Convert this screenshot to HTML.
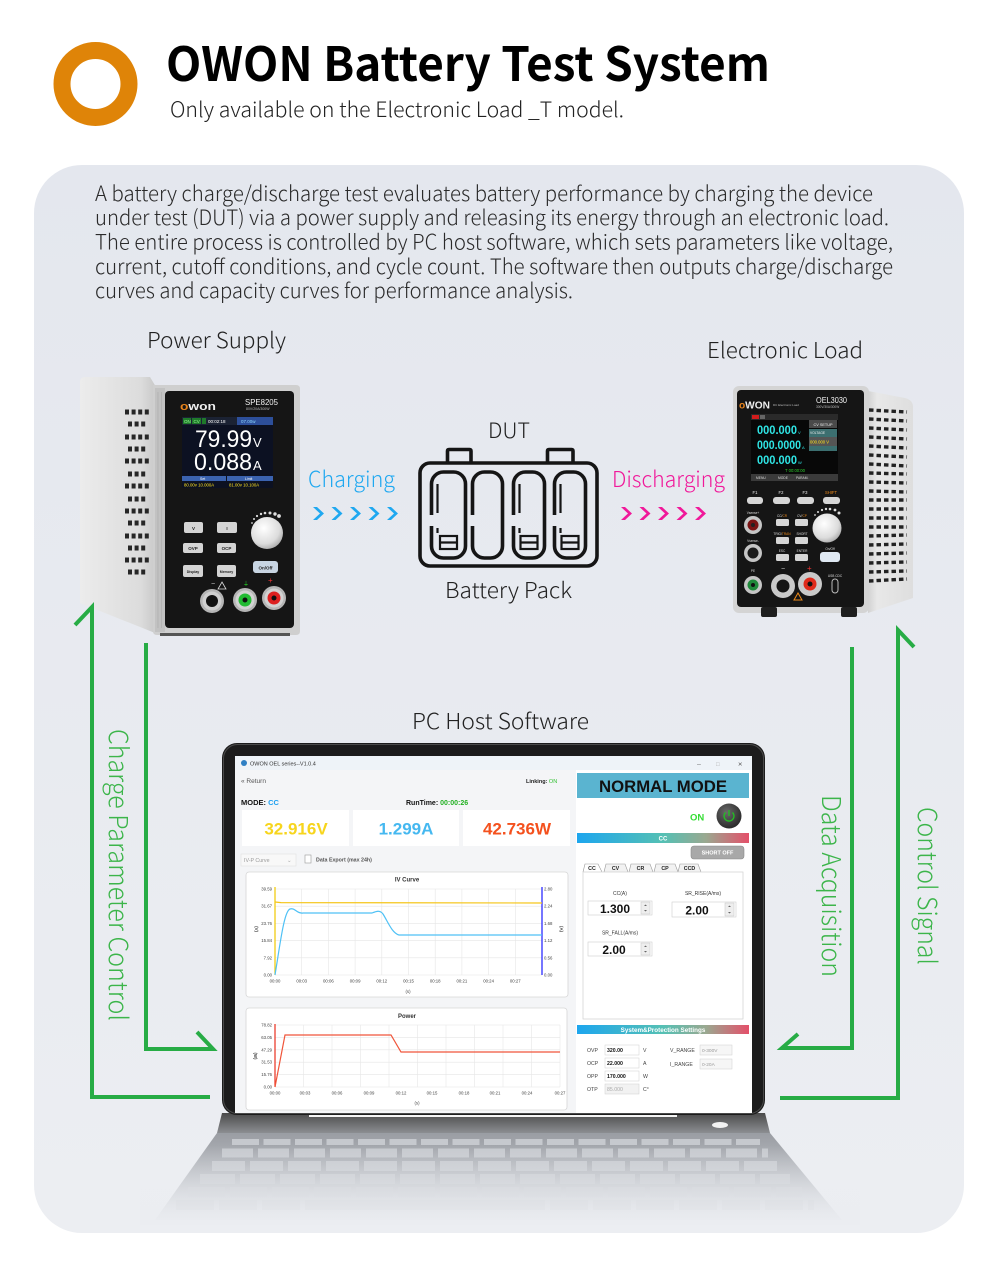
<!DOCTYPE html>
<html><head><meta charset="utf-8">
<style>
html,body{margin:0;padding:0;background:#fff;}
svg{display:block;}
.t{font-family:"Noto Sans CJK SC","Liberation Sans",sans-serif;}
.l{font-family:"Liberation Sans",sans-serif;}
</style></head>
<body>
<svg width="1000" height="1266" viewBox="0 0 1000 1266" xmlns="http://www.w3.org/2000/svg">
<defs>
  <linearGradient id="panelG" x1="0" y1="0" x2="0" y2="1">
    <stop offset="0" stop-color="#e4e7ee"/>
    <stop offset="1" stop-color="#eceef2"/>
  </linearGradient>
  <linearGradient id="sideG" x1="0" y1="0" x2="1" y2="0">
    <stop offset="0" stop-color="#ececec"/>
    <stop offset="0.8" stop-color="#dcdcdc"/>
    <stop offset="1" stop-color="#c8c8c8"/>
  </linearGradient>
  <linearGradient id="sideG2" x1="0" y1="0" x2="1" y2="0">
    <stop offset="0" stop-color="#d2d2d2"/>
    <stop offset="0.2" stop-color="#e8e8e8"/>
    <stop offset="1" stop-color="#dedede"/>
  </linearGradient>
  <linearGradient id="barG" x1="0" y1="0" x2="1" y2="0">
    <stop offset="0" stop-color="#1da6ee"/>
    <stop offset="0.5" stop-color="#55c0b4"/>
    <stop offset="0.75" stop-color="#9aa890"/>
    <stop offset="1" stop-color="#e4506a"/>
  </linearGradient>
  <linearGradient id="hingeG" x1="0" y1="0" x2="0" y2="1">
    <stop offset="0" stop-color="#4a4a4a"/>
    <stop offset="1" stop-color="#8c8e92"/>
  </linearGradient>
  <linearGradient id="deckG" x1="0" y1="0" x2="0" y2="1">
    <stop offset="0" stop-color="#9a9da3"/>
    <stop offset="1" stop-color="#dadde2"/>
  </linearGradient>
  <linearGradient id="fadeG" x1="0" y1="0" x2="0" y2="1">
    <stop offset="0" stop-color="#ebedf1" stop-opacity="0"/>
    <stop offset="1" stop-color="#ebedf1" stop-opacity="0.95"/>
  </linearGradient>
  <radialGradient id="knobG" cx="0.4" cy="0.35" r="0.7">
    <stop offset="0" stop-color="#ffffff"/>
    <stop offset="0.7" stop-color="#dcdcdc"/>
    <stop offset="1" stop-color="#a8a8a8"/>
  </radialGradient>
  <radialGradient id="btnG" cx="0.4" cy="0.35" r="0.7">
    <stop offset="0" stop-color="#6a6a6a"/>
    <stop offset="1" stop-color="#262626"/>
  </radialGradient>
</defs>

<!-- page background panel -->
<rect x="34" y="165" width="930" height="1068" rx="48" fill="url(#panelG)"/>

<!-- header -->
<circle cx="95.5" cy="84" r="33.5" fill="none" stroke="#df8408" stroke-width="17"/>
<text class="t" x="166" y="81" font-size="47" font-weight="bold" fill="#000" textLength="604" lengthAdjust="spacingAndGlyphs">OWON Battery Test System</text>
<text class="t" x="170" y="117" font-size="21" font-weight="300" fill="#222" textLength="454" lengthAdjust="spacingAndGlyphs">Only available on the Electronic Load _T model.</text>

<!-- paragraph -->
<g class="t" font-size="21" font-weight="300" fill="#2a2a2a">
<text x="95" y="201" textLength="778" lengthAdjust="spacingAndGlyphs">A battery charge/discharge test evaluates battery performance by charging the device</text>
<text x="95" y="225" textLength="794" lengthAdjust="spacingAndGlyphs">under test (DUT) via a power supply and releasing its energy through an electronic load.</text>
<text x="95" y="249.5" textLength="798" lengthAdjust="spacingAndGlyphs">The entire process is controlled by PC host software, which sets parameters like voltage,</text>
<text x="95" y="274" textLength="798" lengthAdjust="spacingAndGlyphs">current, cutoff conditions, and cycle count. The software then outputs charge/discharge</text>
<text x="95" y="298" textLength="478" lengthAdjust="spacingAndGlyphs">curves and capacity curves for performance analysis.</text>
</g>

<g class="t" font-size="22" font-weight="300" fill="#222">
<text x="147" y="348" textLength="139" lengthAdjust="spacingAndGlyphs">Power Supply</text>
<text x="707" y="358" textLength="156" lengthAdjust="spacingAndGlyphs">Electronic Load</text>
<text x="488" y="438" font-size="21" textLength="42" lengthAdjust="spacingAndGlyphs">DUT</text>
<text x="445" y="598" textLength="127" lengthAdjust="spacingAndGlyphs">Battery Pack</text>
<text x="412" y="729" textLength="177" lengthAdjust="spacingAndGlyphs">PC Host Software</text>
<text x="308" y="487" fill="#1fa8f0" textLength="87" lengthAdjust="spacingAndGlyphs">Charging</text>
<text x="612" y="487" fill="#f0199a" textLength="113" lengthAdjust="spacingAndGlyphs">Discharging</text>
</g>

<!-- chevrons -->
<g fill="#1fa8f0">
  <polygon points="313,507 317,507 324,513.5 317,520 313,520 320,513.5"/>
  <polygon points="331.5,507 335.5,507 342.5,513.5 335.5,520 331.5,520 338.5,513.5"/>
  <polygon points="350,507 354,507 361,513.5 354,520 350,520 357,513.5"/>
  <polygon points="368.5,507 372.5,507 379.5,513.5 372.5,520 368.5,520 375.5,513.5"/>
  <polygon points="387,507 391,507 398,513.5 391,520 387,520 394,513.5"/>
</g>
<g fill="#f0199a">
  <polygon points="621,507 625,507 632,513.5 625,520 621,520 628,513.5"/>
  <polygon points="639.5,507 643.5,507 650.5,513.5 643.5,520 639.5,520 646.5,513.5"/>
  <polygon points="658,507 662,507 669,513.5 662,520 658,520 665,513.5"/>
  <polygon points="676.5,507 680.5,507 687.5,513.5 680.5,520 676.5,520 683.5,513.5"/>
  <polygon points="695,507 699,507 706,513.5 699,520 695,520 702,513.5"/>
</g>

<!-- battery pack -->
<g fill="none" stroke="#151515" stroke-width="3.6" stroke-linejoin="round">
  <rect x="420" y="463" width="177" height="103" rx="10"/>
  <path d="M447.5,463 V451 Q447.5,449.5 449,449.5 H469.5 Q471,449.5 471,451 V463"/>
  <path d="M547.5,463 V451 Q547.5,449.5 549,449.5 H571.5 Q573,449.5 573,451 V463"/>
  <path d="M431.5,515 V484 A12,12 0 0 1 443.5,472 H453.5 A12,12 0 0 1 465.5,484 V546 A12,12 0 0 1 453.5,558 H443.5 A12,12 0 0 1 431.5,546 V526"/>
  <path d="M472.5,515 V484 A12,12 0 0 1 484.5,472 H490.5 A12,12 0 0 1 502.5,484 V546 A12,12 0 0 1 490.5,558 H484.5 A12,12 0 0 1 472.5,546 V526"/>
  <path d="M513.5,515 V484 A12,12 0 0 1 525.5,472 H532.5 A12,12 0 0 1 544.5,484 V546 A12,12 0 0 1 532.5,558 H525.5 A12,12 0 0 1 513.5,546 V526"/>
  <path d="M554.5,515 V484 A12,12 0 0 1 566.5,472 H573.5 A12,12 0 0 1 585.5,484 V546 A12,12 0 0 1 573.5,558 H566.5 A12,12 0 0 1 554.5,546 V526"/>
</g>
<g fill="none" stroke="#151515" stroke-width="2.2">
  <path d="M437.5,484 V513 M437.5,528 V533"/>
  <path d="M519.5,484 V513 M519.5,528 V533"/>
  <path d="M560.5,484 V513 M560.5,528 V533"/>
  <rect x="440" y="536" width="17" height="13"/><line x1="440" y1="542.5" x2="457" y2="542.5"/>
  <rect x="520.5" y="536" width="17" height="13"/><line x1="520.5" y1="542.5" x2="537.5" y2="542.5"/>
  <rect x="561.5" y="536" width="17" height="13"/><line x1="561.5" y1="542.5" x2="578.5" y2="542.5"/>
</g>

<!-- ============ POWER SUPPLY ============ -->
<g>
  <path d="M85,377 Q80,377 80,382 L80,603 L155,633 L156,387 L150,377 Z" fill="url(#sideG)"/>
  <path d="M153,385 L296,385 Q300,385 300,389 L300,631 Q300,635 296,635 L157,635 Q153,635 153,631 Z" fill="#cfcfcf"/>
  <rect x="155" y="388" width="10" height="244" fill="#c2c2c2"/>
  <g stroke="#b0b0b0" stroke-width="0.8">
    <line x1="158" y1="392" x2="158" y2="628"/><line x1="161.5" y1="392" x2="161.5" y2="628"/>
  </g>
  <rect x="160" y="633" width="130" height="3" fill="#555"/>
  <g stroke="#262626" stroke-width="5">
    <line x1="125" y1="412" x2="151" y2="412" stroke-dasharray="4 2.6"/>
    <line x1="128" y1="424" x2="147" y2="424" stroke-dasharray="4 2.6"/>
    <line x1="125" y1="437" x2="151" y2="437" stroke-dasharray="4 2.6"/>
    <line x1="128" y1="449" x2="147" y2="449" stroke-dasharray="4 2.6"/>
    <line x1="125" y1="461" x2="151" y2="461" stroke-dasharray="4 2.6"/>
    <line x1="128" y1="474" x2="147" y2="474" stroke-dasharray="4 2.6"/>
    <line x1="125" y1="486" x2="151" y2="486" stroke-dasharray="4 2.6"/>
    <line x1="128" y1="499" x2="147" y2="499" stroke-dasharray="4 2.6"/>
    <line x1="125" y1="511" x2="151" y2="511" stroke-dasharray="4 2.6"/>
    <line x1="128" y1="523" x2="147" y2="523" stroke-dasharray="4 2.6"/>
    <line x1="125" y1="536" x2="151" y2="536" stroke-dasharray="4 2.6"/>
    <line x1="128" y1="548" x2="147" y2="548" stroke-dasharray="4 2.6"/>
    <line x1="125" y1="560" x2="151" y2="560" stroke-dasharray="4 2.6"/>
    <line x1="128" y1="572" x2="147" y2="572" stroke-dasharray="4 2.6"/>
  </g>
  <rect x="165" y="391" width="129" height="237" rx="4" fill="#151515"/>
  <text class="l" x="180" y="410" font-size="11" font-weight="bold" fill="#e8841c" textLength="36" lengthAdjust="spacingAndGlyphs">o<tspan fill="#eeeeee">won</tspan></text>
  <text class="l" x="245" y="405" font-size="8.5" fill="#f2f2f2" textLength="33" lengthAdjust="spacingAndGlyphs">SPE8205</text>
  <text class="l" x="246" y="410" font-size="3.5" fill="#bbb">80V/20A/300W</text>
  <rect x="182" y="417" width="91" height="71" fill="#0c1122"/>
  <rect x="182" y="417" width="91" height="8" fill="#1b2233"/>
  <rect x="183" y="418" width="8" height="6" fill="#1f7a2a"/>
  <rect x="192" y="418" width="9" height="6" fill="#1f7a2a"/>
  <rect x="202" y="418" width="4" height="6" fill="#1f7a2a"/>
  <text class="l" x="184" y="423" font-size="4.5" fill="#9f9">ON</text>
  <text class="l" x="193.5" y="423" font-size="4.5" fill="#9f9">CV</text>
  <text class="l" x="208" y="423" font-size="4.5" fill="#fff">00:02:18</text>
  <rect x="237" y="417" width="36" height="8" fill="#2d4f9a"/>
  <text class="l" x="241" y="423" font-size="4.5" fill="#8fd8ff">07.00w</text>
  <text class="l" x="195" y="447" font-size="24" fill="#fff" textLength="57" lengthAdjust="spacingAndGlyphs">79.99</text>
  <text class="l" x="253" y="447" font-size="13" fill="#fff">V</text>
  <text class="l" x="194" y="470" font-size="24" fill="#fff" textLength="58" lengthAdjust="spacingAndGlyphs">0.088</text>
  <text class="l" x="253" y="470" font-size="13" fill="#fff">A</text>
  <rect x="182" y="476" width="44" height="5" fill="#3b63b0"/>
  <rect x="227" y="476" width="46" height="5" fill="#3b63b0"/>
  <text class="l" x="200" y="480" font-size="3.5" fill="#fff">Set</text>
  <text class="l" x="245" y="480" font-size="3.5" fill="#fff">Limit</text>
  <text class="l" x="184" y="486.5" font-size="4.3" fill="#ffe21a">80.00v 10.000A</text>
  <text class="l" x="229" y="486.5" font-size="4.3" fill="#ffe21a">81.00v 10.100A</text>
  <g fill="#d4d4d4">
    <rect x="184" y="522" width="19" height="11" rx="2"/>
    <rect x="217" y="522" width="20" height="11" rx="2"/>
    <rect x="183" y="543" width="20" height="10" rx="2"/>
    <rect x="217" y="543" width="19" height="10" rx="2"/>
    <rect x="183" y="565" width="20" height="12" rx="2"/>
    <rect x="217" y="565" width="19" height="12" rx="2"/>
    <rect x="253" y="561" width="25" height="12" rx="3" fill="#c8d5e2"/>
  </g>
  <g class="l" font-size="4.5" font-weight="bold" fill="#222" text-anchor="middle">
    <text x="193.5" y="530">V</text><text x="227" y="530">I</text>
    <text x="193" y="550">OVP</text><text x="226.5" y="550">OCP</text>
    <text x="193" y="573" font-size="3.5">Display</text><text x="226.5" y="573" font-size="3.5">Memory</text>
    <text x="265.5" y="569.5">On/Off</text>
  </g>
  <g fill="#ddd">
    <circle cx="252" cy="523" r="0.9"/><circle cx="254" cy="519" r="1"/><circle cx="257" cy="516" r="1.1"/>
    <circle cx="261" cy="514" r="1.2"/><circle cx="265" cy="513" r="1.3"/><circle cx="270" cy="513" r="1.5"/>
    <circle cx="275" cy="514" r="1.7"/><circle cx="279" cy="516" r="1.9"/>
  </g>
  <circle cx="267" cy="533" r="16" fill="url(#knobG)"/>
  <text class="l" x="211" y="586" font-size="7" fill="#ddd">−</text>
  <path d="M222,582 L226,589 L218,589 Z" fill="none" stroke="#ddd" stroke-width="0.8"/>
  <text class="l" x="243" y="586" font-size="6" fill="#2c2">⏚</text>
  <text class="l" x="268" y="583" font-size="8" fill="#e33">+</text>
  <circle cx="212" cy="601" r="12" fill="#b5b5b5"/><circle cx="212" cy="601" r="9.5" fill="#cfcfcf"/><circle cx="212" cy="601" r="6" fill="#111"/>
  <circle cx="245" cy="600" r="12" fill="#b5b5b5"/><circle cx="245" cy="600" r="9.5" fill="#d2d2d2"/><circle cx="245" cy="600" r="6.5" fill="#22bb33"/><circle cx="245" cy="600" r="2.5" fill="#111"/>
  <circle cx="274" cy="598" r="12" fill="#b5b5b5"/><circle cx="274" cy="598" r="9.5" fill="#d2d2d2"/><circle cx="274" cy="598" r="6.5" fill="#dd2020"/><circle cx="274" cy="598" r="2.5" fill="#111"/>
</g>

<!-- ============ ELECTRONIC LOAD ============ -->
<g>
  <path d="M868,391 L905,398 Q913,400 913,407 L913,598 L868,613 Z" fill="url(#sideG2)"/>
  <g stroke="#222" stroke-width="3.4" stroke-dasharray="4.5 3">
    <line x1="869" y1="410" x2="907" y2="412"/><line x1="869" y1="419" x2="907" y2="421"/>
    <line x1="869" y1="428" x2="907" y2="430"/><line x1="869" y1="437" x2="907" y2="439"/>
    <line x1="869" y1="446" x2="907" y2="448"/><line x1="869" y1="455" x2="907" y2="457"/>
    <line x1="869" y1="464" x2="907" y2="466"/><line x1="869" y1="473" x2="907" y2="474"/>
    <line x1="869" y1="482" x2="907" y2="483"/><line x1="869" y1="491" x2="907" y2="492"/>
    <line x1="869" y1="500" x2="907" y2="500"/><line x1="869" y1="509" x2="907" y2="509"/>
    <line x1="869" y1="518" x2="907" y2="518"/><line x1="869" y1="527" x2="907" y2="527"/>
    <line x1="869" y1="536" x2="907" y2="535"/><line x1="869" y1="545" x2="907" y2="544"/>
    <line x1="869" y1="554" x2="907" y2="553"/><line x1="869" y1="563" x2="907" y2="562"/>
    <line x1="869" y1="572" x2="907" y2="571"/><line x1="869" y1="581" x2="907" y2="579"/>
  </g>
  <rect x="733" y="386" width="136" height="227" rx="6" fill="#d4d4d4"/>
  <rect x="737" y="390" width="127" height="217" rx="4" fill="#151515"/>
  <rect x="761" y="607" width="16" height="10" rx="2" fill="#1e1e1e"/>
  <rect x="841" y="607" width="16" height="10" rx="2" fill="#1e1e1e"/>
  <text class="l" x="739" y="408.5" font-size="10" font-weight="bold" fill="#e8841c" textLength="31" lengthAdjust="spacingAndGlyphs">o<tspan fill="#eeeeee">WON</tspan></text>
  <text class="l" x="773" y="406" font-size="3" fill="#bbb">DC Electronic Load</text>
  <text class="l" x="816" y="403" font-size="8" fill="#f2f2f2" textLength="31" lengthAdjust="spacingAndGlyphs">OEL3030</text>
  <text class="l" x="816" y="408" font-size="3.2" fill="#bbb">300V/30A/300W</text>
  <rect x="751" y="414" width="87" height="67" fill="#080808"/>
  <rect x="751" y="414" width="87" height="6" fill="#2a2a2a"/>
  <rect x="752" y="415" width="7" height="4" fill="#d21c1c"/>
  <rect x="760" y="415" width="5" height="4" fill="#666"/>
  <g class="l" font-size="11.5" font-weight="bold" fill="#2fe6e6">
    <text x="757" y="434" textLength="40" lengthAdjust="spacingAndGlyphs">000.000</text>
    <text x="757" y="449" textLength="44" lengthAdjust="spacingAndGlyphs">000.0000</text>
    <text x="757" y="464" textLength="40" lengthAdjust="spacingAndGlyphs">000.000</text>
  </g>
  <g class="l" font-size="4" fill="#2fe6e6"><text x="798" y="434">V</text><text x="802" y="449">A</text><text x="798" y="464">W</text></g>
  <rect x="809" y="420" width="28" height="8" fill="#4a4a4a"/>
  <text class="l" x="823" y="426" font-size="3.8" fill="#eee" text-anchor="middle">CV SETUP</text>
  <rect x="809" y="429" width="28" height="22" fill="#3c6f70"/>
  <text class="l" x="810" y="434" font-size="3.3" fill="#eee">VOLTAGE</text>
  <rect x="809" y="437" width="28" height="9" fill="#555"/>
  <text class="l" x="810" y="443.5" font-size="4.2" fill="#ffe21a">000.000 V</text>
  <text class="l" x="785" y="472" font-size="4.2" fill="#2ed12e">T 00:00:00</text>
  <rect x="751" y="474" width="87" height="7" fill="#3a3a3a"/>
  <g class="l" font-size="3.3" fill="#ddd"><text x="756" y="479">MENU</text><text x="778" y="479">MODE</text><text x="796" y="479">PARAM.</text></g>
  <g class="l" font-size="4.2" fill="#eee" text-anchor="middle">
    <text x="755" y="494">F1</text><text x="781" y="494">F2</text><text x="805" y="494">F3</text>
    <text x="831" y="494" fill="#ee8a1a">SHIFT</text>
  </g>
  <g fill="#d6d6d6">
    <rect x="747" y="497" width="16" height="7" rx="3"/><rect x="773" y="497" width="17" height="7" rx="3"/>
    <rect x="797" y="497" width="17" height="7" rx="3"/><rect x="823" y="497" width="17" height="7" rx="3"/>
    <rect x="776" y="519" width="13" height="7" rx="1.5"/><rect x="795" y="519" width="13" height="7" rx="1.5"/>
    <rect x="776" y="537" width="13" height="7" rx="1.5"/><rect x="795" y="537" width="13" height="7" rx="1.5"/>
    <rect x="776" y="554" width="13" height="7" rx="1.5"/><rect x="795" y="554" width="13" height="7" rx="1.5"/>
    <rect x="820" y="552" width="20" height="10" rx="3" fill="#dfe8f2"/>
  </g>
  <g class="l" font-size="3.2" fill="#ddd" text-anchor="middle">
    <text x="753" y="514">Vsense+</text><text x="782" y="517">CC/<tspan fill="#ee8a1a">CR</tspan></text>
    <text x="802" y="517">CV/<tspan fill="#ee8a1a">CP</tspan></text>
    <text x="782" y="535">TRIG/<tspan fill="#ee8a1a">TRAN</tspan></text><text x="802" y="535">SHORT</text>
    <text x="753" y="542">Vsense-</text>
    <text x="782" y="552">ESC</text><text x="802" y="552">ENTER</text><text x="830" y="550">On/Off</text>
    <text x="753" y="572">PE</text><text x="835" y="577">USB CDC</text>
  </g>
  <g fill="#ddd">
    <circle cx="815" cy="515" r="0.9"/><circle cx="818" cy="512" r="1"/><circle cx="822" cy="510" r="1.1"/>
    <circle cx="826" cy="509" r="1.2"/><circle cx="830" cy="509" r="1.3"/><circle cx="835" cy="510" r="1.4"/><circle cx="839" cy="513" r="1.5"/>
  </g>
  <circle cx="827" cy="528" r="14.5" fill="url(#knobG)"/>
  <circle cx="753" cy="525" r="9" fill="#c5c5c5"/><circle cx="753" cy="525" r="5.5" fill="#7a1414"/><circle cx="753" cy="525" r="2" fill="#222"/>
  <circle cx="753" cy="553" r="9" fill="#c5c5c5"/><circle cx="753" cy="553" r="5.5" fill="#1a1a1a"/>
  <circle cx="753" cy="585" r="9" fill="#c5c5c5"/><circle cx="753" cy="585" r="5.5" fill="#1f8a3a"/><circle cx="753" cy="585" r="2" fill="#111"/>
  <text class="l" x="781" y="571" font-size="7" fill="#ddd">−</text>
  <text class="l" x="807" y="571" font-size="8" fill="#e33">+</text>
  <circle cx="783" cy="586" r="12" fill="#c9c9c9"/><circle cx="783" cy="586" r="6.5" fill="#151515"/>
  <circle cx="810" cy="584" r="12" fill="#c9c9c9"/><circle cx="810" cy="584" r="6.5" fill="#e02a1a"/><circle cx="810" cy="584" r="2.5" fill="#111"/>
  <rect x="832" y="579" width="6" height="14" rx="3" fill="none" stroke="#bbb" stroke-width="1"/>
  <path d="M798,593 L802,600 L794,600 Z" fill="none" stroke="#ee8a1a" stroke-width="1"/>
</g>

<!-- ============ GREEN CONNECTORS ============ -->
<g fill="none" stroke="#27ac45" stroke-width="4" stroke-linejoin="miter" stroke-linecap="butt">
  <polyline points="75,625 92,607 92,1097 210,1097"/>
  <polyline points="146,643 146,1049 213,1049 197,1032"/>
  <polyline points="780,1098 898,1098 898,630 914,647"/>
  <polyline points="852,647 852,1048 782,1048 798,1034"/>
</g>
<g class="t" font-size="26" font-weight="300" fill="#3cb54a">
  <text transform="translate(109,729) rotate(90)" textLength="292" lengthAdjust="spacingAndGlyphs">Charge Parameter Control</text>
  <text transform="translate(822,795) rotate(90)" textLength="182" lengthAdjust="spacingAndGlyphs">Data Acquisition</text>
  <text transform="translate(918,807) rotate(90)" textLength="158" lengthAdjust="spacingAndGlyphs">Control Signal</text>
</g>

<!-- ============ LAPTOP ============ -->
<polygon points="222,1113 765,1113 770,1133 217,1133" fill="url(#hingeG)"/>
<rect x="309" y="1113" width="368" height="4" fill="#f4f4f4"/>
<ellipse cx="720" cy="1125" rx="8" ry="3" fill="#f2f2f2"/>
<polygon points="217,1133 770,1133 842,1220 155,1220" fill="url(#deckG)"/>
<g stroke="#c6c9ce">
  <line x1="232" y1="1142" x2="760" y2="1142" stroke-width="6" stroke-dasharray="27 4.5"/>
  <line x1="222" y1="1153" x2="768" y2="1153" stroke-width="9" stroke-dasharray="31 5"/>
  <line x1="212" y1="1166" x2="778" y2="1166" stroke-width="10" stroke-dasharray="33 5"/>
  <line x1="200" y1="1179" x2="790" y2="1179" stroke-width="10" stroke-dasharray="35 5"/>
  <line x1="188" y1="1192" x2="802" y2="1192" stroke-width="10" stroke-dasharray="37 5"/>
  <line x1="176" y1="1205" x2="814" y2="1205" stroke-width="10" stroke-dasharray="38 5 38 5 38 5 240 5 38 5 38 5 38 5 38 5"/>
</g>
<rect x="140" y="1145" width="720" height="80" fill="url(#fadeG)"/>

<!-- bezel -->
<rect x="222" y="743" width="543" height="372" rx="15" fill="#1c1c1c"/>
<rect x="223.5" y="744.5" width="540" height="369" rx="14" fill="none" stroke="#4a4a4a" stroke-width="1"/>
<rect x="235" y="756" width="517" height="357" fill="#ffffff"/>

<rect x="235" y="756" width="517" height="14" fill="#eef3f8"/>
<circle cx="244" cy="763" r="3" fill="#2d7fc4"/>
<g class="l" fill="#333">
  <text x="250" y="765.5" font-size="5.5">OWON OEL series--V1.0.4</text>
  <text x="697" y="766" font-size="7" fill="#777">–</text>
  <text x="716" y="766" font-size="6" fill="#aaa">□</text>
  <text x="738" y="766.5" font-size="7.5" fill="#555">×</text>
</g>

<rect x="235" y="770" width="341" height="343" fill="#f4f5f7"/>
<g class="l">
  <text x="241" y="783" font-size="6.5" fill="#555">« Return</text>
  <text x="526" y="783" font-size="5.5" font-weight="bold" fill="#222">Linking: <tspan fill="#2fbf2f" font-weight="normal">ON</tspan></text>
  <text x="241" y="805" font-size="7.5" font-weight="bold" fill="#111">MODE: <tspan fill="#1ea0f0">CC</tspan></text>
  <text x="406" y="805" font-size="7" font-weight="bold" fill="#111">RunTime: <tspan fill="#22b022">00:00:26</tspan></text>
</g>
<rect x="242" y="810" width="107" height="36" fill="#fff"/>
<rect x="353" y="810" width="106" height="36" fill="#fff"/>
<rect x="463" y="810" width="107" height="36" fill="#fff"/>
<g class="l" font-size="17" font-weight="bold" text-anchor="middle">
  <text x="296" y="834.5" fill="#f7d51d">32.916V</text>
  <text x="406" y="834.5" fill="#45b8f0">1.299A</text>
  <text x="517" y="834.5" fill="#f4511e">42.736W</text>
</g>
<rect x="241" y="854" width="55" height="12" fill="#f8f8f8" stroke="#e2e2e2" stroke-width="0.6"/>
<g class="l" font-size="5.3">
  <text x="244" y="862" fill="#999">IV-P Curve</text>
  <text x="287" y="862" fill="#aaa">⌄</text>
  <rect x="305" y="855" width="6" height="8" fill="#fff" stroke="#999" stroke-width="0.6"/>
  <text x="316" y="861.5" fill="#555" font-weight="bold">Data Export (max 24h)</text>
</g>

<!-- IV chart -->
<rect x="246" y="872" width="322" height="125" rx="3" fill="#fff" stroke="#d6d6d6" stroke-width="0.8"/>
<text class="l" x="407" y="881.5" font-size="6" font-weight="bold" fill="#333" text-anchor="middle">IV Curve</text>
<g stroke="#e6e6e6" stroke-width="0.6">
  <line x1="275" y1="889" x2="542" y2="889"/><line x1="275" y1="906.2" x2="542" y2="906.2"/>
  <line x1="275" y1="923.4" x2="542" y2="923.4"/><line x1="275" y1="940.6" x2="542" y2="940.6"/>
  <line x1="275" y1="957.8" x2="542" y2="957.8"/><line x1="275" y1="975" x2="542" y2="975"/>
  <line x1="301.7" y1="889" x2="301.7" y2="975"/><line x1="328.4" y1="889" x2="328.4" y2="975"/>
  <line x1="355.1" y1="889" x2="355.1" y2="975"/><line x1="381.8" y1="889" x2="381.8" y2="975"/>
  <line x1="408.5" y1="889" x2="408.5" y2="975"/><line x1="435.2" y1="889" x2="435.2" y2="975"/>
  <line x1="461.9" y1="889" x2="461.9" y2="975"/><line x1="488.6" y1="889" x2="488.6" y2="975"/>
  <line x1="515.3" y1="889" x2="515.3" y2="975"/>
</g>
<line x1="275" y1="887" x2="275" y2="975" stroke="#f0c800" stroke-width="1.2"/>
<line x1="542" y1="887" x2="542" y2="975" stroke="#1a1aff" stroke-width="1.2"/>
<g class="l" font-size="4.3" fill="#444">
  <g text-anchor="end">
    <text x="272" y="890.5">39.59</text><text x="272" y="907.7">31.67</text><text x="272" y="924.9">23.76</text>
    <text x="272" y="942.1">15.84</text><text x="272" y="959.3">7.92</text><text x="272" y="976.5">0.00</text>
  </g>
  <text x="544" y="890.5">2.80</text><text x="544" y="907.7">2.24</text><text x="544" y="924.9">1.68</text>
  <text x="544" y="942.1">1.12</text><text x="544" y="959.3">0.56</text><text x="544" y="976.5">0.00</text>
  <g text-anchor="middle">
    <text x="275" y="982.5">00:00</text><text x="301.7" y="982.5">00:03</text><text x="328.4" y="982.5">00:06</text>
    <text x="355.1" y="982.5">00:09</text><text x="381.8" y="982.5">00:12</text><text x="408.5" y="982.5">00:15</text>
    <text x="435.2" y="982.5">00:18</text><text x="461.9" y="982.5">00:21</text><text x="488.6" y="982.5">00:24</text>
    <text x="515.3" y="982.5">00:27</text>
    <text x="408" y="993">(s)</text>
  </g>
  <text transform="translate(255,929) rotate(90)" text-anchor="middle" font-weight="bold">(V)</text>
  <text transform="translate(560,929) rotate(90)" text-anchor="middle" font-weight="bold">(A)</text>
</g>
<path d="M275,902 L281,902.6 L542,903" fill="none" stroke="#f5c518" stroke-width="1.2"/>
<path d="M275,975 C280,945 284,911 290,909 C295,907.5 297,914 303,913 L372,913 C377,911 380,910 383,914 C388,922 392,933 399,935 L542,935" fill="none" stroke="#4fc1f5" stroke-width="1.2"/>

<!-- Power chart -->
<rect x="246" y="1008" width="321" height="102" rx="3" fill="#fff" stroke="#d6d6d6" stroke-width="0.8"/>
<text class="l" x="407" y="1018" font-size="6" font-weight="bold" fill="#333" text-anchor="middle">Power</text>
<g stroke="#e6e6e6" stroke-width="0.6">
  <line x1="275" y1="1025" x2="560" y2="1025"/><line x1="275" y1="1037.4" x2="560" y2="1037.4"/>
  <line x1="275" y1="1049.8" x2="560" y2="1049.8"/><line x1="275" y1="1062.2" x2="560" y2="1062.2"/>
  <line x1="275" y1="1074.6" x2="560" y2="1074.6"/><line x1="275" y1="1087" x2="560" y2="1087"/>
  <line x1="303.5" y1="1025" x2="303.5" y2="1087"/><line x1="332" y1="1025" x2="332" y2="1087"/>
  <line x1="360.5" y1="1025" x2="360.5" y2="1087"/><line x1="389" y1="1025" x2="389" y2="1087"/>
  <line x1="417.5" y1="1025" x2="417.5" y2="1087"/><line x1="446" y1="1025" x2="446" y2="1087"/>
  <line x1="474.5" y1="1025" x2="474.5" y2="1087"/><line x1="503" y1="1025" x2="503" y2="1087"/>
  <line x1="531.5" y1="1025" x2="531.5" y2="1087"/><line x1="560" y1="1025" x2="560" y2="1087"/>
</g>
<line x1="275" y1="1024" x2="275" y2="1087" stroke="#e8301e" stroke-width="1.2"/>
<g class="l" font-size="4.3" fill="#444">
  <g text-anchor="end">
    <text x="272" y="1026.5">78.82</text><text x="272" y="1038.9">63.05</text><text x="272" y="1051.3">47.29</text>
    <text x="272" y="1063.7">31.53</text><text x="272" y="1076.1">15.76</text><text x="272" y="1088.5">0.00</text>
  </g>
  <g text-anchor="middle">
    <text x="275" y="1094.5">00:00</text><text x="305" y="1094.5">00:03</text><text x="337" y="1094.5">00:06</text>
    <text x="369" y="1094.5">00:09</text><text x="401" y="1094.5">00:12</text><text x="432" y="1094.5">00:15</text>
    <text x="464" y="1094.5">00:18</text><text x="495" y="1094.5">00:21</text><text x="527" y="1094.5">00:24</text>
    <text x="560" y="1094.5">00:27</text>
    <text x="417" y="1104.5">(s)</text>
  </g>
  <text transform="translate(254,1056) rotate(90)" text-anchor="middle" font-weight="bold">(W)</text>
</g>
<path d="M275,1087 L285,1035 L391,1035 L401,1052 L560,1052" fill="none" stroke="#f0553a" stroke-width="1.2"/>

<!-- right panel -->
<rect x="577" y="773" width="172" height="25" fill="#5ab4d0"/>
<text class="l" x="663" y="792" font-size="16.5" font-weight="bold" fill="#111" text-anchor="middle" textLength="128" lengthAdjust="spacingAndGlyphs">NORMAL MODE</text>
<text class="l" x="690" y="820.5" font-size="9.5" font-weight="bold" fill="#33dd33">ON</text>
<circle cx="729" cy="816" r="12.5" fill="url(#btnG)"/>
<path d="M725.5,812.5 A5,5 0 1 0 732.5,812.5" fill="none" stroke="#22c022" stroke-width="1.3"/>
<line x1="729" y1="810" x2="729" y2="816" stroke="#22c022" stroke-width="1.3"/>
<rect x="577" y="833" width="172" height="10" fill="url(#barG)"/>
<text class="l" x="663" y="840.5" font-size="6" font-weight="bold" fill="#fff" text-anchor="middle">CC</text>
<rect x="691" y="846" width="53" height="13" rx="3" fill="#a8a8a8" stroke="#8a8a8a" stroke-width="0.6"/>
<text class="l" x="717.5" y="854.7" font-size="5.5" font-weight="bold" fill="#fff" text-anchor="middle">SHORT OFF</text>
<g fill="#f2f2f2" stroke="#9a9a9a" stroke-width="0.6">
  <path d="M604,872 L606,864 H625 L628,872"/>
  <path d="M629,872 L631,864 H650 L653,872"/>
  <path d="M654,872 L656,864 H675 L678,872"/>
  <path d="M678,872 L680,864 H698 L701,872"/>
  <path d="M583,872 L585,864 H598 L602,872" fill="#fff"/>
</g>
<g class="l" font-size="5.3" font-weight="bold" fill="#222" text-anchor="middle">
  <text x="592" y="870">CC</text><text x="615.5" y="870">CV</text><text x="640.5" y="870">CR</text>
  <text x="665" y="870">CP</text><text x="689.5" y="870">CCD</text>
</g>
<rect x="583" y="872" width="160" height="147" fill="#fff" stroke="#d0d0d0" stroke-width="0.7"/>
<g class="l" font-size="5" fill="#333" text-anchor="middle">
  <text x="620" y="895">CC(A)</text><text x="703" y="895">SR_RISE(A/ms)</text><text x="620" y="934.5">SR_FALL(A/ms)</text>
</g>
<g fill="#fff" stroke="#cfcfcf" stroke-width="0.6">
  <rect x="588" y="901" width="64" height="14"/>
  <rect x="672" y="902" width="64" height="15"/>
  <rect x="588" y="942" width="64" height="14"/>
</g>
<g fill="#eee" stroke="#c4c4c4" stroke-width="0.5">
  <rect x="641" y="902" width="9" height="12"/><rect x="725" y="903" width="9" height="13"/><rect x="641" y="943" width="9" height="12"/>
</g>
<g fill="#666">
  <path d="M644,906 L647,906 L645.5,904.5Z M644,910 L647,910 L645.5,911.5Z"/>
  <path d="M728,907 L731,907 L729.5,905.5Z M728,912 L731,912 L729.5,913.5Z"/>
  <path d="M644,947 L647,947 L645.5,945.5Z M644,951 L647,951 L645.5,952.5Z"/>
</g>
<g class="l" font-size="12" font-weight="bold" fill="#111" text-anchor="middle">
  <text x="615" y="913">1.300</text><text x="697" y="914.5">2.00</text><text x="614" y="954">2.00</text>
</g>
<rect x="577" y="1025" width="172" height="9" fill="url(#barG)"/>
<text class="l" x="663" y="1032" font-size="6.3" font-weight="bold" fill="#fff" text-anchor="middle">System&amp;Protection Settings</text>
<g class="l" font-size="5.2" fill="#444">
  <text x="587" y="1052">OVP</text><text x="587" y="1065">OCP</text><text x="587" y="1078">OPP</text><text x="587" y="1091">OTP</text>
  <text x="643" y="1052">V</text><text x="643" y="1065">A</text><text x="643" y="1078">W</text><text x="643" y="1091">C°</text>
  <text x="670" y="1052">V_RANGE</text><text x="670" y="1066">I_RANGE</text>
</g>
<g fill="#fff" stroke="#cfcfcf" stroke-width="0.5">
  <rect x="605" y="1045" width="34" height="10"/><rect x="605" y="1058" width="34" height="10"/>
  <rect x="605" y="1071" width="34" height="10"/><rect x="605" y="1084" width="34" height="10" fill="#f2f2f2"/>
  <rect x="700" y="1045" width="32" height="10" fill="#f6f6f6"/><rect x="700" y="1059" width="32" height="10" fill="#f6f6f6"/>
</g>
<g class="l" font-size="5.2">
  <text x="607" y="1052" font-weight="bold" fill="#111">320.00</text>
  <text x="607" y="1065" font-weight="bold" fill="#111">22.000</text>
  <text x="607" y="1078" font-weight="bold" fill="#111">170.000</text>
  <text x="607" y="1091" fill="#aaa">85.000</text>
  <text x="702" y="1052" fill="#999" font-size="4.8">0-300V</text>
  <text x="702" y="1066" fill="#999" font-size="4.8">0-20A</text>
</g>
</svg>
</body></html>
